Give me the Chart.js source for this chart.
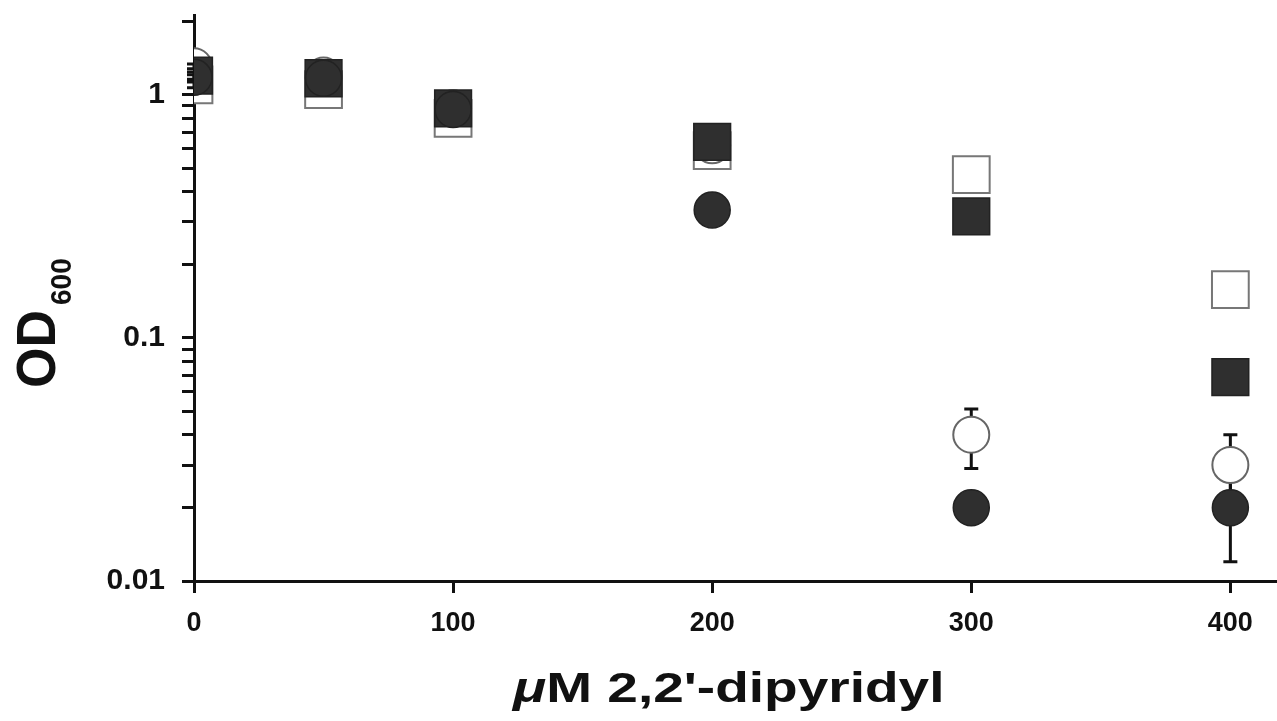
<!DOCTYPE html>
<html>
<head>
<meta charset="utf-8">
<script src="https://cdn.jsdelivr.net/npm/chart.js@4.4.1/dist/chart.umd.min.js"></script>
<style>
    html, body { margin: 0; padding: 0; background: #fff; }
    #wrap { width: 1277px; height: 721px; position: relative; }
</style>
</head>
<body>
<div id="wrap"><canvas id="myChart"></canvas></div>
<script>
// dipyridyl concentration (uM)
const doses = [0, 50, 100, 200, 300, 400];

// OD600 values
const filledCircle = [1.18, 1.17, 0.87, 0.336, 0.020, 0.020];
const filledCircleErr = [0.03, 0.03, 0.02, 0.01, 0.002, 0.008];
const filledSquare = [1.20, 1.17, 0.88, 0.64, 0.316, 0.069];
const filledSquareErr = [0.04, 0.04, 0.03, 0.02, 0.01, 0.003];
const openCircle = [1.31, 1.20, 0.88, 0.62, 0.040, 0.030];
const openCircleErr = [0.03, 0.03, 0.02, 0.02, 0.011, 0.010];
const openSquare = [1.10, 1.05, 0.80, 0.59, 0.47, 0.158];
const openSquareErr = [0.03, 0.03, 0.02, 0.02, 0.01, 0.005];

const xTicks = [0, 100, 200, 300, 400];
const yMajorTicks = [0.01, 0.1, 1];
const yTicks = [0.01, 0.02, 0.03, 0.04, 0.05, 0.06, 0.07, 0.08, 0.09,
                0.1, 0.2, 0.3, 0.4, 0.5, 0.6, 0.7, 0.8, 0.9, 1, 2];

const FONT = "'Liberation Sans', Arial, Helvetica, sans-serif";
const DARK = '#2f2f2f';

function toPoints(values) {
    return doses.map((d, i) => ({ x: d, y: values[i] }));
}

// draws the error bars under the markers
const errorBars = {
    id: 'errorBars',
    beforeDatasetsDraw(chart) {
        const ctx = chart.ctx;
        const xs = chart.scales.x;
        const ys = chart.scales.y;
        ctx.save();
        ctx.strokeStyle = '#111';
        ctx.lineWidth = 3;
        chart.data.datasets.forEach(ds => {
            ds.data.forEach((p, i) => {
                const e = ds.errors[i];
                if (!e) return;
                const px = xs.getPixelForValue(p.x);
                const top = ys.getPixelForValue(p.y + e);
                const bot = ys.getPixelForValue(Math.max(p.y - e, 0.0001));
                ctx.beginPath();
                ctx.moveTo(px, top); ctx.lineTo(px, bot);
                ctx.moveTo(px - 7, top); ctx.lineTo(px + 7, top);
                ctx.moveTo(px - 7, bot); ctx.lineTo(px + 7, bot);
                ctx.stroke();
            });
        });
        ctx.restore();
    }
};

// axis titles (subscript and italic mu need manual drawing)
const axisTitles = {
    id: 'axisTitles',
    afterDraw(chart) {
        const ctx = chart.ctx;
        ctx.save();
        ctx.fillStyle = '#111';
        ctx.textBaseline = 'alphabetic';
        ctx.textAlign = 'left';

        // y title: OD600
        ctx.save();
        ctx.translate(55, 388);
        ctx.rotate(-Math.PI / 2);
        ctx.scale(1, 1.08);
        ctx.font = 'bold 52px ' + FONT;
        ctx.fillText('OD', 0, 0);
        const odW = ctx.measureText('OD').width;
        ctx.font = 'bold 28px ' + FONT;
        ctx.fillText('600', odW + 5, 15);
        ctx.restore();

        // x title
        ctx.save();
        ctx.translate(513, 702);
        ctx.scale(1.31, 1);
        ctx.font = 'italic bold 42px ' + FONT;
        ctx.fillText('\u03bc', 0, 0);
        const muW = ctx.measureText('\u03bc').width;
        ctx.font = 'bold 42px ' + FONT;
        ctx.fillText("M 2,2'-dipyridyl", muW, 0);
        ctx.restore();

        ctx.restore();
    }
};

const ctx = document.getElementById('myChart');

new Chart(ctx, {
    type: 'scatter',
    data: {
        datasets: [
            {
                label: 'filled circle',
                data: toPoints(filledCircle),
                errors: filledCircleErr,
                pointStyle: 'circle',
                pointRadius: 18,
                backgroundColor: DARK,
                borderColor: '#222',
                borderWidth: 1.5
            },
            {
                label: 'filled square',
                data: toPoints(filledSquare),
                errors: filledSquareErr,
                pointStyle: 'rect',
                pointRadius: 26,
                backgroundColor: DARK,
                borderColor: '#222',
                borderWidth: 1.5
            },
            {
                label: 'open circle',
                data: toPoints(openCircle),
                errors: openCircleErr,
                pointStyle: 'circle',
                pointRadius: 18,
                backgroundColor: '#fff',
                borderColor: '#666',
                borderWidth: 2
            },
            {
                label: 'open square',
                data: toPoints(openSquare),
                errors: openSquareErr,
                pointStyle: 'rect',
                pointRadius: 26,
                backgroundColor: '#fff',
                borderColor: '#777',
                borderWidth: 2
            }
        ]
    },
    options: {
        responsive: true,
        maintainAspectRatio: false,
        animation: false,
        layout: { autoPadding: false, padding: { top: 15, right: 0, left: 0, bottom: 0 } },
        plugins: {
            legend: { display: false },
            tooltip: { enabled: false }
        },
        scales: {
            x: {
                type: 'linear',
                min: 0,
                max: 418,
                afterBuildTicks: (s) => { s.ticks = xTicks.map(v => ({ value: v })); },
                afterFit: (s) => {
                    s.height = 140;
                    s.paddingLeft = 0;
                    s.paddingRight = 0;
                },
                border: { color: '#111', width: 3 },
                grid: { drawOnChartArea: false, tickLength: 12, tickWidth: 3, tickColor: '#111' },
                ticks: {
                    autoSkip: false,
                    maxRotation: 0,
                    padding: 14,
                    color: '#111',
                    font: { family: FONT, size: 27, weight: 'bold' }
                }
            },
            y: {
                type: 'logarithmic',
                min: 0.01,
                max: 2.13,
                afterBuildTicks: (s) => { s.ticks = yTicks.map(v => ({ value: v })); },
                afterFit: (s) => {
                    s.width = 194;
                    s.paddingTop = 0;
                    s.paddingBottom = 0;
                },
                border: { color: '#111', width: 3 },
                grid: { drawOnChartArea: false, tickLength: 12, tickWidth: 3, tickColor: '#111' },
                ticks: {
                    autoSkip: false,
                    padding: 17,
                    color: '#111',
                    font: { family: FONT, size: 30, weight: 'bold' },
                    callback: function(value) {
                        return yMajorTicks.includes(value) ? String(value) : '';
                    }
                }
            }
        }
    },
    plugins: [errorBars, axisTitles]
});
</script>
</body>
</html>
